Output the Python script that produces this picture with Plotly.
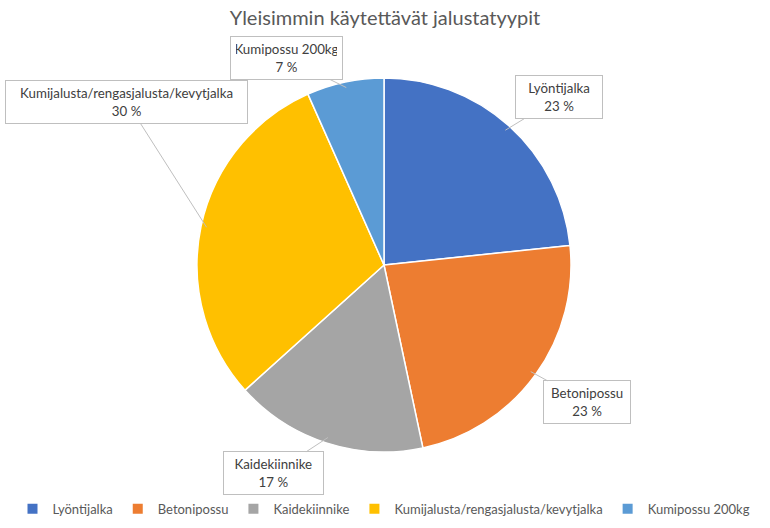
import math
import plotly.graph_objects as go

labels = ["Lyöntijalka", "Betonipossu", "Kaidekiinnike",
          "Kumijalusta/rengasjalusta/kevytjalka", "Kumipossu 200kg"]
values = [7, 7, 5, 9, 2]
colors = ["#4472C4", "#ED7D31", "#A5A5A5", "#FFC000", "#5B9BD5"]
title_text = "Yleisimmin käytettävät jalustatyypit"

W, H = 770, 528
margin = dict(l=0, r=2, t=78, b=76)
plot_w = W - margin["l"] - margin["r"]
plot_h = H - margin["t"] - margin["b"]
radius = min(plot_w, plot_h) / 2
cx = margin["l"] + plot_w / 2
cy = margin["t"] + plot_h / 2

fig = go.Figure(go.Pie(
    labels=labels, values=values, sort=False, direction="clockwise",
    rotation=0, textinfo="none", hoverinfo="label+percent",
    marker=dict(colors=colors, line=dict(color="white", width=1.5)),
    showlegend=True,
))

total = sum(values)
cum = 0
annotations = []
gap = 9
pad = 5
for lab, v in zip(labels, values):
    mid = (cum + v / 2) / total * 2 * math.pi
    cum += v
    pct = round(v / total * 100)
    s, c = math.sin(mid), math.cos(mid)
    bw = len(lab) * 6.2 + 8
    bh = 32
    hw, hh = bw / 2 + pad + 1, bh / 2 + pad + 1
    sx = 1 if s >= 0 else -1
    sy = -1 if c >= 0 else 1
    corner_x = cx + (radius + gap) * s
    corner_y = cy - (radius + gap) * c
    bx = corner_x + sx * hw
    by = corner_y + sy * hh
    bx = min(max(bx, 5 + hw), W - 5 - hw)
    # keep nearest corner outside the pie after clamping
    ncx = bx - sx * hw
    dx = ncx - cx
    need = (radius + gap) ** 2 - dx ** 2
    if need > 0 and abs(dx) < radius + gap:
        dy_min = math.sqrt(need)
        ncy = by - sy * hh
        if abs(ncy - cy) < dy_min:
            ncy = cy + sy * dy_min
            by = ncy + sy * hh
    by = max(by, 36 + hh)
    tip_r = radius * 0.97
    tx_px = cx + tip_r * s
    ty_px = cy - tip_r * c
    annotations.append(dict(
        x=(tx_px - margin["l"]) / plot_w,
        y=1 - (ty_px - margin["t"]) / plot_h,
        xref="paper", yref="paper",
        text=f"{lab}<br>{pct} %", showarrow=True, arrowhead=0,
        arrowwidth=1, arrowcolor="#BFBFBF",
        ax=bx - tx_px, ay=by - ty_px,
        width=bw, height=bh,
        bgcolor="white", bordercolor="#BFBFBF", borderwidth=1, borderpad=pad,
        font=dict(family="Lato, Carlito, sans-serif", size=13.3, color="#404040"),
    ))

fig.update_layout(
    width=W, height=H, margin=margin,
    paper_bgcolor="white", plot_bgcolor="white",
    title=dict(text=title_text, x=0.5, xanchor="center", y=0.965, yanchor="middle",
               font=dict(family="Lato, Carlito, sans-serif", size=20, color="#595959")),
    legend=dict(orientation="h", x=0.5, xanchor="center", y=-0.152, yanchor="middle",
                font=dict(family="Lato, Carlito, sans-serif", size=13, color="#595959"),
                itemsizing="constant", traceorder="normal", itemwidth=30),
    annotations=annotations,
)

fig.write_html("out.html")
